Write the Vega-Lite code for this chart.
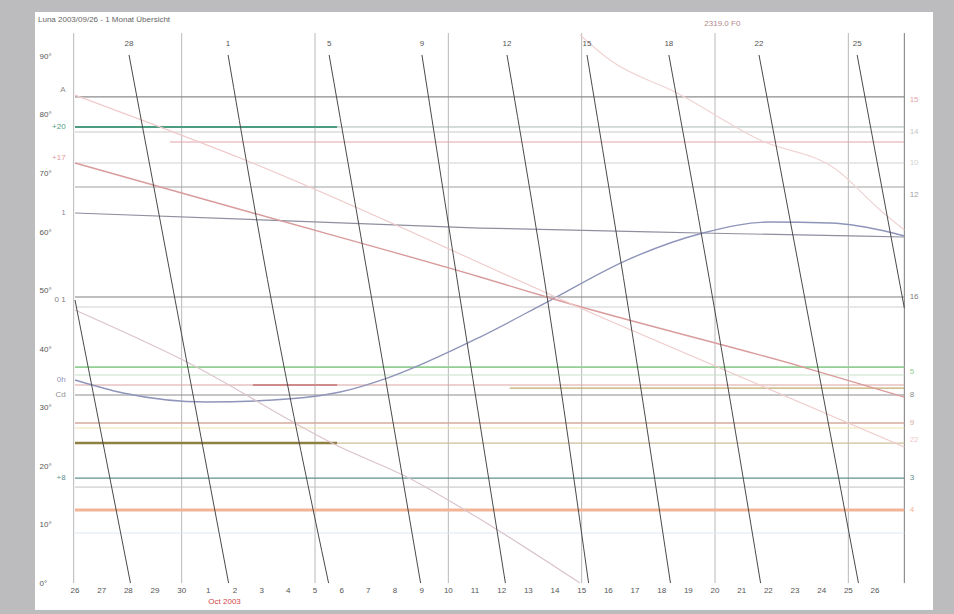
{
  "$schema": "https://vega.github.io/schema/vega-lite/v6.json",
  "width": 898,
  "height": 598,
  "autosize": {"type": "none"},
  "padding": {"left": 35, "top": 12, "right": 21, "bottom": 4},
  "background": "#bcbcbe",
  "config": {"view": {"fill": "#ffffff", "stroke": null}, "font": "Liberation Sans"},
  "title": {"text": "Luna 2003/09/26 - 1 Monat Übersicht", "anchor": "start", "frame": "group", "offset": -12, "dx": 3, "fontSize": 8, "fontWeight": "normal", "color": "#666666", "font": "Liberation Sans"},
  "datasets": {
    "grid": [{"t": -0.05}, {"t": 4}, {"t": 9}, {"t": 14}, {"t": 19}, {"t": 24}, {"t": 29}, {"t": 31.1}],
    "days": [
      {"t": 0, "day": "26"}, {"t": 1, "day": "27"}, {"t": 2, "day": "28"}, {"t": 3, "day": "29"}, {"t": 4, "day": "30"},
      {"t": 5, "day": "1"}, {"t": 6, "day": "2"}, {"t": 7, "day": "3"}, {"t": 8, "day": "4"}, {"t": 9, "day": "5"},
      {"t": 10, "day": "6"}, {"t": 11, "day": "7"}, {"t": 12, "day": "8"}, {"t": 13, "day": "9"}, {"t": 14, "day": "10"},
      {"t": 15, "day": "11"}, {"t": 16, "day": "12"}, {"t": 17, "day": "13"}, {"t": 18, "day": "14"}, {"t": 19, "day": "15"},
      {"t": 20, "day": "16"}, {"t": 21, "day": "17"}, {"t": 22, "day": "18"}, {"t": 23, "day": "19"}, {"t": 24, "day": "20"},
      {"t": 25, "day": "21"}, {"t": 26, "day": "22"}, {"t": 27, "day": "23"}, {"t": 28, "day": "24"}, {"t": 29, "day": "25"},
      {"t": 30, "day": "26"}
    ],
    "tracks": [
      {"series": "h97", "t": 0, "v": 83.08}, {"series": "h97", "t": 31.1, "v": 83.08},
      {"series": "h127a", "t": 0, "v": 77.95}, {"series": "h127a", "t": 9.83, "v": 77.95},
      {"series": "h127b", "t": 9.83, "v": 77.95}, {"series": "h127b", "t": 31.1, "v": 77.95},
      {"series": "h132", "t": 0, "v": 77.09}, {"series": "h132", "t": 31.1, "v": 77.09},
      {"series": "h142", "t": 3.56, "v": 75.38}, {"series": "h142", "t": 31.1, "v": 75.38},
      {"series": "h163", "t": 0, "v": 71.79}, {"series": "h163", "t": 31.1, "v": 71.79},
      {"series": "h187", "t": 0, "v": 67.69}, {"series": "h187", "t": 31.1, "v": 67.69},
      {"series": "h297", "t": 0, "v": 48.89}, {"series": "h297", "t": 31.1, "v": 48.89},
      {"series": "h307", "t": 0, "v": 47.18}, {"series": "h307", "t": 31.1, "v": 47.18},
      {"series": "h367", "t": 0, "v": 36.92}, {"series": "h367", "t": 31.1, "v": 36.92},
      {"series": "h375", "t": 0, "v": 35.56}, {"series": "h375", "t": 31.1, "v": 35.56},
      {"series": "h385", "t": 0, "v": 33.85}, {"series": "h385", "t": 31.1, "v": 33.85},
      {"series": "h385b", "t": 6.67, "v": 33.85}, {"series": "h385b", "t": 9.83, "v": 33.85},
      {"series": "h388", "t": 16.3, "v": 33.33}, {"series": "h388", "t": 31.1, "v": 33.33},
      {"series": "h395", "t": 0, "v": 32.14}, {"series": "h395", "t": 31.1, "v": 32.14},
      {"series": "h423", "t": 0, "v": 27.35}, {"series": "h423", "t": 31.1, "v": 27.35},
      {"series": "h428", "t": 0, "v": 26.5}, {"series": "h428", "t": 31.1, "v": 26.5},
      {"series": "h443a", "t": 0, "v": 23.93}, {"series": "h443a", "t": 9.83, "v": 23.93},
      {"series": "h443b", "t": 9.83, "v": 23.93}, {"series": "h443b", "t": 31.1, "v": 23.93},
      {"series": "h478", "t": 0, "v": 17.95}, {"series": "h478", "t": 31.1, "v": 17.95},
      {"series": "h487", "t": 0, "v": 16.41}, {"series": "h487", "t": 31.1, "v": 16.41},
      {"series": "h510", "t": 0, "v": 12.48}, {"series": "h510", "t": 31.1, "v": 12.48},
      {"series": "h533", "t": 0, "v": 8.55}, {"series": "h533", "t": 31.1, "v": 8.55},
      {"series": "G", "t": 0, "v": 63.25}, {"series": "G", "t": 15.19, "v": 60.68}, {"series": "G", "t": 23.44, "v": 59.83}, {"series": "G", "t": 31.1, "v": 59.15},
      {"series": "B", "t": 0, "v": 34.7}, {"series": "B", "t": 1.8, "v": 32.48}, {"series": "B", "t": 4.95, "v": 30.94}, {"series": "B", "t": 7.43, "v": 31.28}, {"series": "B", "t": 9.94, "v": 32.65}, {"series": "B", "t": 11.81, "v": 35.21}, {"series": "B", "t": 15.19, "v": 42.05}, {"series": "B", "t": 17.7, "v": 48.03}, {"series": "B", "t": 20.7, "v": 55.21}, {"series": "B", "t": 23.55, "v": 59.83}, {"series": "B", "t": 26.06, "v": 61.71}, {"series": "B", "t": 28.31, "v": 61.54}, {"series": "B", "t": 30.67, "v": 59.83}, {"series": "B", "t": 31.1, "v": 59.32},
      {"series": "P1", "t": 0, "v": 71.79}, {"series": "P1", "t": 6.67, "v": 63.25}, {"series": "P1", "t": 15.19, "v": 52.31}, {"series": "P1", "t": 18.07, "v": 48.38}, {"series": "P1", "t": 27.3, "v": 36.92}, {"series": "P1", "t": 31.1, "v": 31.79},
      {"series": "P2", "t": 0, "v": 83.4}, {"series": "P2", "t": 6.19, "v": 72.65}, {"series": "P2", "t": 19.8, "v": 45.3}, {"series": "P2", "t": 31.1, "v": 23.25},
      {"series": "P3", "t": 18.94, "v": 93.68}, {"series": "P3", "t": 20.06, "v": 89.4}, {"series": "P3", "t": 22.58, "v": 83.76}, {"series": "P3", "t": 25.69, "v": 75.73}, {"series": "P3", "t": 28.57, "v": 70.6}, {"series": "P3", "t": 30.19, "v": 63.76}, {"series": "P3", "t": 31.1, "v": 60.34},
      {"series": "P4", "t": 0, "v": 46.67}, {"series": "P4", "t": 4.05, "v": 38.12}, {"series": "P4", "t": 9.94, "v": 23.25}, {"series": "P4", "t": 12.45, "v": 18.12}, {"series": "P4", "t": 14.81, "v": 11.97}, {"series": "P4", "t": 18.94, "v": 0}
    ],
    "diag": [
      {"series": "D0", "t": 0, "v": 48.38}, {"series": "D0", "t": 2.08, "v": 0},
      {"series": "D1", "t": 2.025, "v": 90.26}, {"series": "D1", "t": 3.825, "v": 46.67}, {"series": "D1", "t": 5.76, "v": 0},
      {"series": "D2", "t": 5.74, "v": 90.26}, {"series": "D2", "t": 7.43, "v": 46.67}, {"series": "D2", "t": 9.51, "v": 0},
      {"series": "D3", "t": 9.53, "v": 90.26}, {"series": "D3", "t": 11.2, "v": 46.67}, {"series": "D3", "t": 12.96, "v": 0},
      {"series": "D4", "t": 13.01, "v": 90.26}, {"series": "D4", "t": 14.51, "v": 46.67}, {"series": "D4", "t": 16.14, "v": 0},
      {"series": "D5", "t": 16.2, "v": 90.26}, {"series": "D5", "t": 17.78, "v": 46.67}, {"series": "D5", "t": 19.26, "v": 0},
      {"series": "D6", "t": 19.2, "v": 90.26}, {"series": "D6", "t": 20.76, "v": 46.67}, {"series": "D6", "t": 22.33, "v": 0},
      {"series": "D7", "t": 22.27, "v": 90.26}, {"series": "D7", "t": 23.99, "v": 46.67}, {"series": "D7", "t": 25.71, "v": 0},
      {"series": "D8", "t": 25.65, "v": 90.26}, {"series": "D8", "t": 27.45, "v": 46.67}, {"series": "D8", "t": 29.38, "v": 0},
      {"series": "D9", "t": 29.33, "v": 90.26}, {"series": "D9", "t": 31.1, "v": 47.0}
    ],
    "tops": [
      {"t": 2.025, "text": "28"}, {"t": 5.74, "text": "1"}, {"t": 9.53, "text": "5"}, {"t": 13.01, "text": "9"}, {"t": 16.2, "text": "12"},
      {"t": 19.2, "text": "15"}, {"t": 22.27, "text": "18"}, {"t": 25.65, "text": "22"}, {"t": 29.33, "text": "25"}
    ],
    "leftlabels": [
      {"series": "h97", "v": 84.3, "text": "A"},
      {"series": "h127a", "v": 77.95, "text": "+20"},
      {"series": "P1", "v": 72.6, "text": "+17"},
      {"series": "G", "v": 63.25, "text": "1"},
      {"series": "h297", "v": 48.38, "text": "0 1"},
      {"series": "B", "v": 34.7, "text": "0h"},
      {"series": "h395", "v": 32.14, "text": "Cd"},
      {"series": "h478", "v": 17.95, "text": "+8"}
    ],
    "rightlabels": [
      {"series": "h142", "v": 82.56, "text": "15"},
      {"series": "h132", "v": 77.1, "text": "14"},
      {"series": "h163", "v": 71.79, "text": "10"},
      {"series": "h187", "v": 66.3, "text": "12"},
      {"series": "h297", "v": 48.89, "text": "16"},
      {"series": "h367", "v": 36.07, "text": "5"},
      {"series": "h395", "v": 32.14, "text": "8"},
      {"series": "h423", "v": 27.35, "text": "9"},
      {"series": "P2", "v": 24.44, "text": "22"},
      {"series": "h478", "v": 17.95, "text": "3"},
      {"series": "h510", "v": 12.48, "text": "4"}
    ],
    "notes": [
      {"note": "header", "t": 23.6, "v": 95.6, "text": "2319.0 F0"},
      {"note": "month", "t": 5, "v": -3.3, "text": "Oct 2003"}
    ]
  },
  "layer": [
    {
      "data": {"name": "grid"},
      "mark": {"type": "rule", "strokeWidth": 1},
      "encoding": {
        "x": {"field": "t", "type": "quantitative", "title": null, "axis": null, "scale": {"domain": [-1.5, 32.175], "nice": false, "zero": false}},
        "y": {"datum": 0, "scale": {"domain": [-4.6, 97.6], "nice": false, "zero": false}},
        "y2": {"datum": 94},
        "color": {"condition": {"test": "datum.t > 31", "value": "#7a7a7a"}, "value": "#b8b8b8"}
      }
    },
    {
      "data": {"name": "tracks"},
      "mark": {"type": "line", "interpolate": "monotone"},
      "encoding": {
        "x": {"field": "t", "type": "quantitative", "title": null, "axis": null,
          "scale": {"domain": [-1.5, 32.175], "nice": false, "zero": false}},
        "y": {"field": "v", "type": "quantitative", "title": null,
          "scale": {"domain": [-4.6, 97.6], "nice": false, "zero": false},
          "axis": {"orient": "left", "offset": 0, "values": [0,10,20,30,40,50,60,70,80,90],
            "labelExpr": "datum.value + '°'", "labelAlign": "left", "labelPadding": -4,
            "labelOverlap": false, "domain": false, "ticks": false, "tickSize": 0, "grid": false, "labelFontSize": 8, "labelColor": "#555555", "labelFont": "Liberation Sans"}},
        "color": {"field": "series", "type": "nominal", "legend": null,
          "scale": {
            "domain": ["h97","h127a","h127b","h132","h142","h163","h187","h297","h307","h367","h375","h385","h385b","h388","h395","h423","h428","h443a","h443b","h478","h487","h510","h533","G","B","P1","P2","P3","P4"],
            "range": ["#8c8c8c","#4e9c80","#a9bab2","#c9c9c9","#e6a4ac","#d2d2d2","#a0a0a0","#808080","#d0d0d0","#92cf92","#c8dfc8","#dca4a4","#cf8a8a","#c2aa6c","#8e8e8e","#d6aa9f","#efe3b2","#8e7f42","#ccbf98","#62908f","#c2c2c2","#f1b495","#dce8f2","#8f8fa0","#8f95ba","#d99b9b","#f0caca","#f0d3d3","#dbc3cc"]
          }},
        "strokeWidth": {"field": "series", "type": "nominal", "legend": null,
          "scale": {"type": "ordinal",
            "domain": ["h97","h127a","h127b","h132","h142","h163","h187","h297","h307","h367","h375","h385","h385b","h388","h395","h423","h428","h443a","h443b","h478","h487","h510","h533","G","B","P1","P2","P3","P4"],
            "range": [1.2,2.2,1,1,1.2,1,1.1,1.2,1,1.8,1,1.2,2,1.2,1.2,1.6,1,2.6,1.2,1.3,1,3,1,1.2,1.4,1.4,1.2,1.2,1.2]
          }}
      }
    },
    {
      "data": {"name": "diag"},
      "mark": {"type": "line", "interpolate": "monotone", "color": "#4a4a4a", "strokeWidth": 1},
      "encoding": {
        "x": {"field": "t", "type": "quantitative", "title": null, "axis": null, "scale": {"domain": [-1.5, 32.175], "nice": false, "zero": false}},
        "y": {"field": "v", "type": "quantitative", "title": null, "scale": {"domain": [-4.6, 97.6], "nice": false, "zero": false}},
        "detail": {"field": "series", "type": "nominal"}
      }
    },
    {
      "data": {"name": "days"},
      "mark": {"type": "text", "align": "center", "baseline": "middle", "fontSize": 8, "color": "#555555", "font": "Liberation Sans"},
      "encoding": {
        "x": {"field": "t", "type": "quantitative", "title": null, "axis": null, "scale": {"domain": [-1.5, 32.175], "nice": false, "zero": false}},
        "y": {"datum": -1.4, "scale": {"domain": [-4.6, 97.6], "nice": false, "zero": false}},
        "text": {"field": "day"}
      }
    },
    {
      "data": {"name": "leftlabels"},
      "mark": {"type": "text", "align": "right", "baseline": "middle", "fontSize": 8, "font": "Liberation Sans"},
      "encoding": {
        "x": {"datum": -0.35, "axis": null, "scale": {"domain": [-1.5, 32.175], "nice": false, "zero": false}},
        "y": {"field": "v", "type": "quantitative", "title": null, "scale": {"domain": [-4.6, 97.6], "nice": false, "zero": false}},
        "text": {"field": "text"},
        "color": {"field": "series", "type": "nominal", "legend": null}
      }
    },
    {
      "data": {"name": "rightlabels"},
      "mark": {"type": "text", "align": "left", "baseline": "middle", "fontSize": 8, "font": "Liberation Sans"},
      "encoding": {
        "x": {"datum": 31.3, "axis": null, "scale": {"domain": [-1.5, 32.175], "nice": false, "zero": false}},
        "y": {"field": "v", "type": "quantitative", "title": null, "scale": {"domain": [-4.6, 97.6], "nice": false, "zero": false}},
        "text": {"field": "text"},
        "color": {"field": "series", "type": "nominal", "legend": null}
      }
    },
    {
      "data": {"name": "tops"},
      "mark": {"type": "text", "align": "center", "baseline": "bottom", "fontSize": 8, "color": "#555555", "font": "Liberation Sans"},
      "encoding": {
        "x": {"field": "t", "type": "quantitative", "title": null, "axis": null, "scale": {"domain": [-1.5, 32.175], "nice": false, "zero": false}},
        "y": {"datum": 91.5, "scale": {"domain": [-4.6, 97.6], "nice": false, "zero": false}},
        "text": {"field": "text"}
      }
    },
    {
      "data": {"name": "notes"},
      "mark": {"type": "text", "align": "left", "baseline": "middle", "fontSize": 8, "font": "Liberation Sans"},
      "encoding": {
        "x": {"field": "t", "type": "quantitative", "title": null, "axis": null, "scale": {"domain": [-1.5, 32.175], "nice": false, "zero": false}},
        "y": {"field": "v", "type": "quantitative", "title": null, "scale": {"domain": [-4.6, 97.6], "nice": false, "zero": false}},
        "text": {"field": "text"},
        "color": {"condition": {"test": "datum.note == 'month'", "value": "#d04848"}, "value": "#b08888"}
      }
    }
  ]
}
